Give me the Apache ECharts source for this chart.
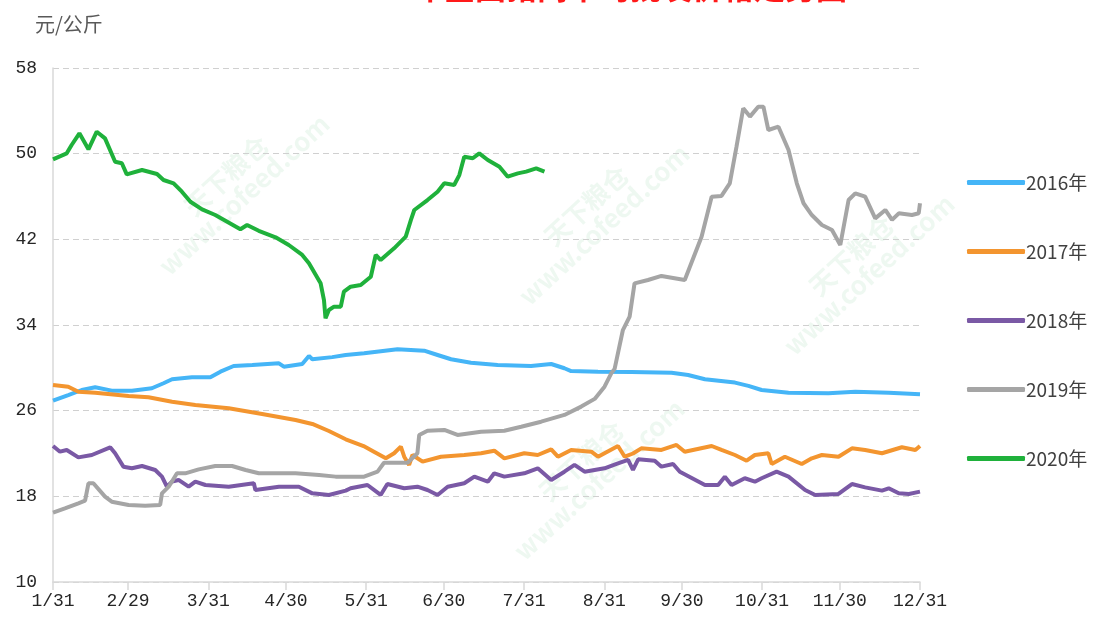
<!DOCTYPE html>
<html>
<head>
<meta charset="utf-8">
<script src="https://cdn.jsdelivr.net/npm/echarts@6/dist/echarts.min.js"></script>
<style>
html, body { margin: 0; padding: 0; background: #fff; }
#main { width: 1102px; height: 628px; }
</style>
</head>
<body>
<div id="main"></div>
<script>
// x = days after 1/31, y = 元/公斤
var tickDays = [0, 29, 60, 90, 121, 151, 182, 213, 243, 274, 304, 335];
var tickLabels = ['1/31', '2/29', '3/31', '4/30', '5/31', '6/30', '7/31', '8/31', '9/30', '10/31', '11/30', '12/31'];
var seriesNames = ['2016年', '2017年', '2018年', '2019年', '2020年'];

var data2016 = [
    [0, 26.93], [5.9, 27.46], [11.1, 27.93], [16.3, 28.18], [22.7, 27.87], [30.5, 27.87],
    [38.2, 28.09], [42.7, 28.56], [46, 28.93], [53.7, 29.12], [60.8, 29.12], [64.7, 29.64],
    [69.8, 30.17], [77, 30.27], [87.3, 30.42], [89.2, 30.11], [96.3, 30.36], [98.9, 31.11],
    [100.2, 30.8], [107.9, 31.0], [113.1, 31.2], [120.2, 31.36], [133.1, 31.73], [143.4, 31.6],
    [148.6, 31.2], [153.8, 30.8], [161.5, 30.48], [171.8, 30.27], [184.7, 30.17], [192.5, 30.36],
    [197.6, 29.96], [200.2, 29.7], [210.6, 29.64], [223.5, 29.62], [239, 29.55], [245.4, 29.33],
    [251.9, 28.93], [263.5, 28.62], [268.7, 28.31], [273.8, 27.93], [284.2, 27.68], [299.6, 27.62],
    [310, 27.77], [322.9, 27.68], [335, 27.53]
];

var data2017 = [
    [0, 28.4], [5.9, 28.24], [9.8, 27.77], [16.3, 27.68], [29.2, 27.37], [36.9, 27.25],
    [46, 26.84], [55, 26.53], [67.9, 26.22], [80.8, 25.69], [93.7, 25.13], [100.2, 24.76],
    [106.6, 24.1], [113.1, 23.33], [120, 22.7], [124, 22.17], [128.6, 21.55], [131.8, 22.02],
    [134.4, 22.64], [135.7, 21.7], [137.6, 20.93], [138.9, 21.86], [142.8, 21.24], [149.9, 21.7],
    [158.9, 21.86], [165.4, 22.02], [170.5, 22.26], [174.4, 21.55], [182.1, 22.02], [187.3, 21.86],
    [192.5, 22.39], [195.1, 21.7], [200.2, 22.33], [208, 22.17], [210.6, 21.7], [218.3, 22.7],
    [220.9, 21.7], [224.1, 22.0], [227.3, 22.48], [235.1, 22.33], [240.9, 22.8], [244.1, 22.17],
    [254.5, 22.7], [258.3, 22.33], [263.5, 21.86], [268, 21.33], [271.2, 21.86], [276.4, 22.02],
    [277.7, 21.02], [282.8, 21.7], [289.3, 21.02], [293.2, 21.55], [297.1, 21.86], [303.5, 21.7],
    [308.7, 22.48], [313.8, 22.33], [320.3, 22.02], [328, 22.58], [333.2, 22.33], [335, 22.7]
];

var data2018 = [
    [0, 22.7], [2.7, 22.17], [5.3, 22.33], [9.8, 21.64], [15, 21.86], [22.1, 22.58],
    [24, 22.02], [27.2, 20.77], [30.5, 20.62], [34.4, 20.83], [39.5, 20.46], [42.1, 19.84],
    [44, 18.9], [46, 19.37], [48.5, 19.53], [52.4, 18.9], [55, 19.37], [58.9, 19.06],
    [67.9, 18.9], [77.6, 19.22], [78.2, 18.59], [87.3, 18.9], [95, 18.9], [100.2, 18.28],
    [106.6, 18.13], [113.1, 18.53], [115, 18.75], [121.5, 19.06], [126.6, 18.13], [129.2, 19.15],
    [135.7, 18.75], [140.8, 18.9], [144.7, 18.59], [148.6, 18.13], [152.5, 18.9], [158.9, 19.22],
    [162.8, 19.84], [168, 19.37], [170.5, 20.15], [174.4, 19.84], [182.1, 20.15], [187.3, 20.62],
    [192.5, 19.53], [197.6, 20.3], [201.5, 20.93], [205.4, 20.3], [213.1, 20.62], [218.3, 21.08],
    [222.2, 21.4], [224.1, 20.46], [226.1, 21.46], [232.5, 21.33], [235.1, 20.77], [239.6, 21.02],
    [242.2, 20.3], [251.9, 19.06], [257, 19.06], [259.6, 19.84], [262.2, 19.06], [267.3, 19.69],
    [271.2, 19.37], [273.8, 19.69], [279.6, 20.3], [284.2, 19.84], [290.6, 18.59], [294.5, 18.13],
    [303.5, 18.22], [308.7, 19.15], [313.8, 18.84], [320.3, 18.53], [322.9, 18.75], [326.8, 18.28],
    [330.7, 18.22], [335, 18.44]
];

var data2019 = [
    [0, 16.48], [4.6, 16.88], [9.8, 17.35], [12.4, 17.6], [13.7, 19.22], [15.6, 19.22],
    [20.1, 17.97], [22.7, 17.5], [29.2, 17.19], [35.6, 17.13], [41.4, 17.19], [42.1, 18.28],
    [44.7, 18.9], [47.9, 20.15], [51.1, 20.15], [56.3, 20.52], [62.7, 20.83], [69.2, 20.83],
    [74.4, 20.46], [79.5, 20.15], [93.7, 20.15], [102.8, 19.99], [109.2, 19.84], [120.2, 19.84],
    [125.4, 20.3], [127.9, 21.14], [137, 21.14], [140.8, 22.02], [141.5, 23.73], [144.7, 24.13],
    [151.2, 24.2], [156.3, 23.73], [165.4, 24.04], [174.4, 24.13], [180.9, 24.5], [188.6, 24.97],
    [197.6, 25.6], [204.1, 26.38], [209.3, 27.1], [213.1, 28.24], [215.7, 29.49], [217, 29.9],
    [220.2, 33.53], [222.8, 34.78], [224.7, 37.89], [229.9, 38.2], [235.1, 38.58], [244.1, 38.2],
    [250.6, 42.25], [254.5, 45.98], [258.3, 46.05], [261.5, 47.23], [264.1, 50.65], [266.7, 54.24],
    [269.3, 53.46], [272.5, 54.39], [274.5, 54.39], [276.4, 52.21], [280.3, 52.52], [284.2, 50.34],
    [287.4, 47.23], [290, 45.37], [293.2, 44.27], [297.1, 43.34], [301, 42.87], [304.2, 41.47],
    [307.4, 45.67], [310, 46.3], [313.8, 45.98], [317.7, 43.96], [321.6, 44.74], [324.2, 43.81],
    [326.8, 44.43], [331.9, 44.27], [334.5, 44.43], [335, 45.37]
];

var data2020 = [
    [0, 49.47], [5.3, 50.03], [7.2, 50.81], [10.2, 51.9], [13.7, 50.41], [16.9, 52.05],
    [20.1, 51.43], [24, 49.25], [26.6, 49.1], [28.5, 48.07], [34.4, 48.47], [40.2, 48.1],
    [42.7, 47.54], [46.6, 47.23], [49.8, 46.45], [53.1, 45.51], [57.6, 44.8], [62.7, 44.27],
    [67.3, 43.65], [72.4, 42.94], [75, 43.34], [79.5, 42.8], [86, 42.19], [91.1, 41.47],
    [96.3, 40.54], [98.9, 39.76], [103.4, 37.9], [104.7, 36.33], [105.3, 34.62], [106.6, 35.4],
    [108.6, 35.71], [111.2, 35.71], [112.4, 37.11], [115, 37.58], [118.9, 37.74], [122.8, 38.51],
    [124.7, 40.54], [126.6, 40.07], [131.8, 41.16], [136.3, 42.25], [138.3, 43.81], [139.6, 44.74],
    [144.7, 45.67], [148.6, 46.45], [151.2, 47.23], [155, 47.07], [157, 48.0], [158.9, 49.72],
    [162.2, 49.57], [164.7, 50.03], [168, 49.41], [172.5, 48.78], [175.7, 47.85], [179.6, 48.16],
    [182.8, 48.32], [186.7, 48.63], [189.9, 48.32]
];

var colors = ['#45b5f7', '#f3952f', '#7a59a5', '#a5a5a5', '#1fb13b'];
var allData = [data2016, data2017, data2018, data2019, data2020];

var chart = echarts.init(document.getElementById('main'));

var series = [];
for (var i = 0; i < seriesNames.length; i++) {
    series.push({
        name: seriesNames[i],
        type: 'line',
        data: allData[i],
        showSymbol: false,
        symbol: 'none',
        lineStyle: { width: 4, color: colors[i] },
        itemStyle: { color: colors[i] },
        z: 3 + i
    });
}

// 水印
var marks = [];
var markPos = [[235, 185], [595, 215], [860, 265], [590, 470]];
for (var m = 0; m < markPos.length; m++) {
    marks.push({
        type: 'text',
        x: markPos[m][0],
        y: markPos[m][1],
        rotation: Math.PI / 4.2,
        silent: true,
        z: 0,
        style: {
            text: '天下粮仓\nwww.cofeed.com',
            fill: 'rgba(120,200,150,0.13)',
            font: 'bold 26px "Noto Sans CJK SC"',
            align: 'center',
            verticalAlign: 'middle',
            lineHeight: 26
        }
    });
}

var axisFont = '"Liberation Mono", "Noto Sans CJK SC", monospace';

var option = {
    animation: false,
    backgroundColor: '#fff',
    color: colors,
    textStyle: { fontFamily: '"Noto Sans CJK SC", sans-serif' },
    graphic: [{
        // 标题（上半部分在图片外）
        type: 'text',
        x: 551,
        y: 3,
        silent: true,
        style: {
            text: '2016-2020年全国猪肉平均批发价格走势图',
            fill: '#ff1a1a',
            font: 'bold 31px "Noto Sans CJK SC"',
            align: 'center',
            verticalAlign: 'bottom'
        }
    }, {
        type: 'text',
        left: 35,
        top: 14,
        style: {
            text: '元/公斤',
            fill: '#595959',
            font: '20px "Noto Sans CJK SC"'
        }
    }].concat(marks),
    legend: {
        orient: 'vertical',
        left: 962,
        top: 168,
        itemGap: 50,
        itemWidth: 58,
        itemHeight: 5,
        icon: 'roundRect',
        data: seriesNames,
        textStyle: { fontSize: 19, color: '#404040', padding: [0, 0, 0, -4] }
    },
    grid: {
        left: 53,
        right: 182,
        top: 68,
        bottom: 46,
        containLabel: false
    },
    xAxis: {
        type: 'value',
        min: 0,
        max: 335,
        axisLine: { show: true, lineStyle: { color: '#d9d9d9', width: 1.5 } },
        axisTick: {
            show: true,
            length: 8,
            customValues: tickDays,
            lineStyle: { color: '#d9d9d9', width: 1.5 }
        },
        axisLabel: {
            customValues: tickDays,
            fontSize: 18,
            fontFamily: axisFont,
            color: '#262626',
            margin: 10,
            formatter: function(v) {
                var idx = tickDays.indexOf(v);
                return idx >= 0 ? tickLabels[idx] : '';
            }
        },
        splitLine: { show: false }
    },
    yAxis: {
        type: 'value',
        min: 10,
        max: 58,
        interval: 8,
        axisLine: { show: true, lineStyle: { color: '#d9d9d9', width: 1.5 } },
        axisTick: { show: false },
        axisLabel: { fontSize: 18, fontFamily: axisFont, color: '#262626', margin: 16 },
        splitLine: { show: true, lineStyle: { color: '#d0d0d0', type: [6, 4], width: 1 } }
    },
    series: series
};

chart.setOption(option);
</script>
</body>
</html>
